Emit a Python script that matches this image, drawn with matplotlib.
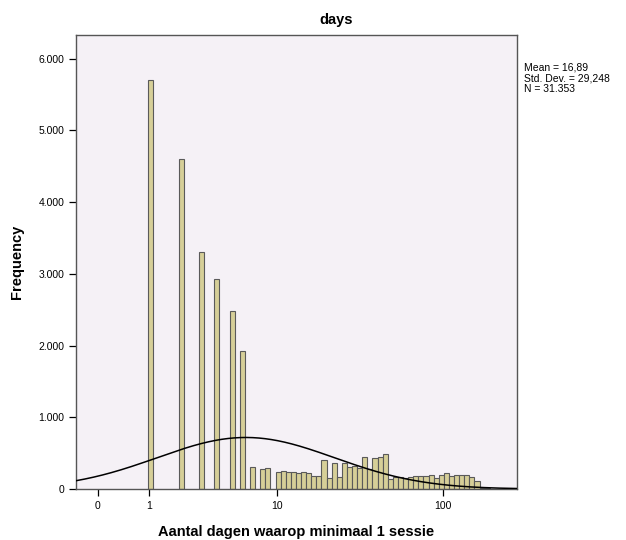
import numpy as np
import matplotlib
matplotlib.use("Agg")
import matplotlib.pyplot as plt
from matplotlib.ticker import FuncFormatter

plt.rcParams['font.family'] = ['Liberation Sans', 'DejaVu Sans']

# ---- data ----
# bins are equal width on the "safe log" axis: t = log10(x + 1)
bin_start = 0.2929
bin_width = 0.02958
counts = [5704, 0, 0, 0, 0, 0, 4598, 0, 0, 0,
          3301, 0, 0, 2929, 0, 0, 2487, 0, 1929, 0,
          302, 0, 275, 289, 0, 232, 246, 240, 232, 223,
          232, 228, 186, 186, 405, 149, 367, 172, 358, 311,
          325, 289, 451, 275, 428, 451, 484, 139, 172, 165,
          158, 172, 181, 186, 186, 190, 149, 195, 228, 181,
          200, 200, 200, 172, 111, 20, 8]

x_ticks = [0, 1, 10, 100]
y_ticks = [0, 1000, 2000, 3000, 4000, 5000, 6000]

n_total = 31353
mean_txt = "16,89"
sd_txt = "29,248"
n_txt = "31.353"

# normal curve that SPSS drew (in transformed units)
curve_mu = 0.86
curve_sd = 0.515


def fwd(x):
    x = np.asarray(x, dtype=float)
    return np.sign(x) * np.log10(1 + np.abs(x))


def inv(t):
    t = np.asarray(t, dtype=float)
    return np.sign(t) * (10 ** np.abs(t) - 1)


fig = plt.figure(figsize=(6.26, 5.40), dpi=100)
ax = fig.add_axes([76 / 626, 1 - 489 / 540, (517 - 76) / 626, (489 - 35) / 540])
ax.set_xscale('function', functions=(fwd, inv))
ax.set_facecolor('#f5f1f6')

# bars
counts = np.array(counts, dtype=float)
edges_t = bin_start + bin_width * np.arange(len(counts) + 1)
left = inv(edges_t[:-1])
right = inv(edges_t[1:])
keep = counts > 0
ax.bar(left[keep], counts[keep], width=(right - left)[keep], align='edge',
       color='#d6cf98', edgecolor='#5a5a5a', linewidth=0.8, zorder=2)

# normal curve
t_lo, t_hi = -0.1247, 2.433
tt = np.linspace(t_lo, t_hi, 500)
yy = n_total * bin_width / (curve_sd * np.sqrt(2 * np.pi)) * np.exp(-0.5 * ((tt - curve_mu) / curve_sd) ** 2)
ax.plot(inv(tt), yy, color='black', linewidth=1.1, zorder=3)

ax.set_xlim(inv(t_lo), inv(t_hi))
ax.set_ylim(0, 6330)
ax.set_xticks(x_ticks)
ax.set_xticklabels([str(v) for v in x_ticks])
ax.minorticks_off()
ax.set_yticks(y_ticks)
ax.yaxis.set_major_formatter(FuncFormatter(lambda v, p: f"{int(v):,}".replace(",", ".")))
ax.tick_params(direction='out', length=5, width=0.9, labelsize=7.5, colors='black')

for s in ax.spines.values():
    s.set_color('#555555')
    s.set_linewidth(1.0)

ax.set_xlabel("Aantal dagen waarop minimaal 1 sessie", fontsize=10.5, fontweight='bold', labelpad=10)
ax.set_ylabel("Frequency", fontsize=10.5, fontweight='bold', labelpad=10)
fig.text(336 / 626, 1 - 20 / 540, "days", ha='center', va='center', fontsize=10.5, fontweight='bold')

fig.text(524 / 626, 1 - 63 / 540,
         f"Mean = {mean_txt}\nStd. Dev. = {sd_txt}\nN = {n_txt}",
         ha='left', va='top', fontsize=7.5, linespacing=1.05)

fig.savefig("out.png", dpi=100)
